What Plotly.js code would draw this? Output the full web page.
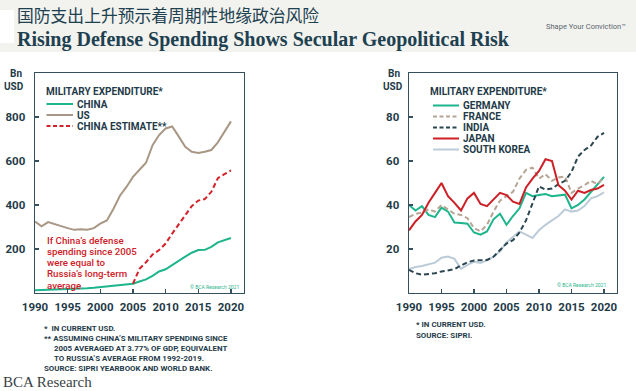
<!DOCTYPE html>
<html>
<head>
<meta charset="utf-8">
<script src="https://cdn.plot.ly/plotly-3.0.1.min.js"></script>
<style>html,body{margin:0;padding:0;background:#fff;}#chart{width:636px;height:391px;}</style>
</head>
<body>
<div id="chart"></div>
<script>
// ---------- data ----------
const years = [1990,1991,1992,1993,1994,1995,1996,1997,1998,1999,2000,2001,2002,2003,2004,2005,2006,2007,2008,2009,2010,2011,2012,2013,2014,2015,2016,2017,2018,2019,2020];
const chinaSpend = [12,13,14,14,15,16,18,20,22,24,27,30,33,36,39,42,52,62,78,98,108,128,148,165,183,195,196,210,230,240,250];
const usSpend = [325,303,322,312,302,295,287,290,288,295,315,330,382,442,482,528,560,592,672,718,748,757,712,665,642,636,642,650,685,735,780];
const estYears = [2005,2006,2007,2008,2009,2010,2011,2012,2013,2014,2015,2016,2017,2018,2019,2020];
const chinaEstimate = [42,110,140,175,195,225,270,310,355,395,420,427,460,522,540,557];

const germany = [40,37.5,39.5,35.5,34.5,38.8,37,32,31.8,31.5,27.5,26.5,28,33.5,36,31,35,38.5,45.5,44,44.5,45,44,44.3,44.7,38.5,40,42.5,46,49,52.8];
const france = [34.5,36,36.5,38,37,40,38,36,35.5,34,29.5,28,31,37,42,44,46,52,56,57,52,54,51,52.5,53,45.5,47.5,49,51,49.5,52.7];
const india = [10.5,9,8.3,8.5,9,9.8,10.2,10.8,12.5,14,14.8,15,15,16.5,19.5,22.5,24,27.5,33,41,48.5,47,47.5,49.5,51,55,62,65,67,71,72.8];
const japan = [28.5,32.5,35.5,41,45.5,50,44,41,37.5,43,45.5,40.5,39.5,42.5,45.5,44.5,41.5,40.5,48,52,55.5,60.8,60,49,46.5,42.5,46.5,45.5,46.8,47.5,49.2];
const southKorea = [10.9,11.8,12.3,13,13.8,16,16.6,15.5,11,12.8,14.2,13.6,14.8,16.5,19,23,25.5,28,26.5,25,28.5,31,33,35,38,37,37.5,39.5,43,44,45.7];

const xTicks = [1990,1995,2000,2005,2010,2015,2020];
const leftYTicks = [200,400,600,800];
const rightYTicks = [20,40,60,80];

const leftLegend = ["CHINA","US","CHINA ESTIMATE**"];
const rightLegend = ["GERMANY","FRANCE","INDIA","JAPAN","SOUTH KOREA"];

// ---------- styles ----------
const W = 636, H = 391;
const X = p => p / W;
const Y = p => 1 - p / H;
const INK = '#1f3b49';
const AX = '#34505c';
const FONT = 'Roboto, "Open Sans", sans-serif';
const C = {
  china: '#1db58c', us: '#a99785', est: '#d3222a',
  germany: '#1db58c', france: '#b6a594', india: '#2b4651', japan: '#cc1f26', korea: '#bccbd8'
};

const traces = [
  {x: years, y: chinaSpend, xaxis: 'x', yaxis: 'y', mode: 'lines', line: {color: C.china, width: 2}},
  {x: years, y: usSpend, xaxis: 'x', yaxis: 'y', mode: 'lines', line: {color: C.us, width: 2}},
  {x: estYears, y: chinaEstimate, xaxis: 'x', yaxis: 'y', mode: 'lines', line: {color: C.est, width: 2, dash: '5px,3px'}},
  {x: years, y: southKorea, xaxis: 'x2', yaxis: 'y2', mode: 'lines', line: {color: C.korea, width: 2}},
  {x: years, y: germany, xaxis: 'x2', yaxis: 'y2', mode: 'lines', line: {color: C.germany, width: 2}},
  {x: years, y: france, xaxis: 'x2', yaxis: 'y2', mode: 'lines', line: {color: C.france, width: 2, dash: '5px,3px'}},
  {x: years, y: india, xaxis: 'x2', yaxis: 'y2', mode: 'lines', line: {color: C.india, width: 2, dash: '5px,3px'}},
  {x: years, y: japan, xaxis: 'x2', yaxis: 'y2', mode: 'lines', line: {color: C.japan, width: 2}}
];

const axisCommon = {
  showline: true, mirror: true, linecolor: AX, linewidth: 1.4,
  ticks: 'inside', ticklen: 4, tickwidth: 1.2, tickcolor: AX,
  showgrid: false, zeroline: false, fixedrange: true,
  tickfont: {family: FONT, size: 11.5, color: INK, weight: 700}
};

const layout = {
  width: W, height: H,
  margin: {l: 0, r: 0, t: 0, b: 0},
  paper_bgcolor: '#ffffff', plot_bgcolor: 'rgba(0,0,0,0)',
  showlegend: false,
  xaxis: Object.assign({}, axisCommon, {domain: [X(35), X(244)], range: [1990, 2022], tickvals: xTicks, anchor: 'y', ticklabelstandoff: 3}),
  yaxis: Object.assign({}, axisCommon, {domain: [Y(293), Y(73)], range: [0, 1000], tickvals: leftYTicks, anchor: 'x', ticklabelstandoff: 6}),
  xaxis2: Object.assign({}, axisCommon, {domain: [X(409), X(617)], range: [1990, 2022], tickvals: xTicks, anchor: 'y2', ticklabelstandoff: 3}),
  yaxis2: Object.assign({}, axisCommon, {domain: [Y(293), Y(73)], range: [0, 100], tickvals: rightYTicks, anchor: 'x2', ticklabelstandoff: 6}),
  shapes: [],
  annotations: []
};

// header band
layout.shapes.push({type: 'rect', xref: 'paper', yref: 'paper', x0: 0, x1: 1, y0: Y(52), y1: 1, fillcolor: '#f2f2ee', line: {width: 0}, layer: 'below'});
layout.shapes.push({type: 'rect', xref: 'paper', yref: 'paper', x0: 0, x1: X(14), y0: Y(43), y1: Y(10), fillcolor: '#ffffff', line: {width: 0}, layer: 'below'});

function txt(t, px, py, size, color, opts) {
  layout.annotations.push(Object.assign({
    text: t, xref: 'paper', yref: 'paper', x: X(px), y: Y(py),
    xanchor: 'left', yanchor: 'middle', showarrow: false, borderpad: 0,
    font: {family: FONT, size: size, color: color, weight: 700}
  }, opts || {}));
}

// titles
txt('国防支出上升预示着周期性地缘政治风险', 16, 15, 16.8, '#1d4150', {font: {family: '"Noto Sans CJK SC", sans-serif', size: 16.8, color: '#1d4150', weight: 400}});
txt('Rising Defense Spending Shows Secular Geopolitical Risk', 16, 40, 20, '#1d4150', {font: {family: '"Liberation Serif", serif', size: 20, color: '#1d4150', weight: 700}});
txt('Shape Your Conviction™', 545, 26, 7.5, '#5b666e', {font: {family: FONT, size: 7.5, color: '#5b666e', weight: 400}});

// unit labels
txt('Bn', 16, 73, 10, INK, {xanchor: 'center'});
txt('USD', 14, 86, 10, INK, {xanchor: 'center'});
txt('Bn', 394, 73, 10, INK, {xanchor: 'center'});
txt('USD', 393, 86, 10, INK, {xanchor: 'center'});

// legends (drawn as key)
txt('MILITARY EXPENDITURE*', 45, 91, 10, INK);
const leftKey = [{c: C.china, d: 'solid'}, {c: C.us, d: 'solid'}, {c: C.est, d: '4px,2.5px'}];
leftLegend.forEach((name, i) => {
  const py = 104 + i * 11;
  layout.shapes.push({type: 'line', xref: 'paper', yref: 'paper', x0: X(46.5), x1: X(73), y0: Y(py), y1: Y(py), line: {color: leftKey[i].c, width: 2, dash: leftKey[i].d}});
  txt(name, 76, py, 10, INK);
});
txt('MILITARY EXPENDITURE*', 429, 91, 10, INK);
const rightKey = [{c: C.germany, d: 'solid'}, {c: C.france, d: '4px,2.5px'}, {c: C.india, d: '4px,2.5px'}, {c: C.japan, d: 'solid'}, {c: C.korea, d: 'solid'}];
rightLegend.forEach((name, i) => {
  const py = 105.5 + i * 11;
  layout.shapes.push({type: 'line', xref: 'paper', yref: 'paper', x0: X(433), x1: X(459), y0: Y(py), y1: Y(py), line: {color: rightKey[i].c, width: 2, dash: rightKey[i].d}});
  txt(name, 462, py, 10, INK);
});

// red note
['If China\u2019s defense', 'spending since 2005', 'were equal to', 'Russia\u2019s long-term', 'average'].forEach((t, i) => {
  txt(t, 45.5, 240 + i * 11.3, 9.7, '#cf2027', {font: {family: FONT, size: 9.7, color: '#cf2027', weight: 500}});
});

// copyright marks
txt('© BCA Research 2021', 240, 287, 5, '#2cb58c', {xanchor: 'right', font: {family: FONT, size: 5, color: '#2cb58c', weight: 400}});
txt('© BCA Research 2021', 607, 285, 5, '#2cb58c', {xanchor: 'right', font: {family: FONT, size: 5, color: '#2cb58c', weight: 400}});

// footnotes
txt('*  IN CURRENT USD.', 43, 328, 7.9, INK);
txt('** ASSUMING CHINA\u2019S MILITARY SPENDING SINCE', 43, 338, 7.9, INK);
txt('2005 AVERAGED AT 3.77% OF GDP, EQUIVALENT', 53, 348, 7.9, INK);
txt('TO RUSSIA\u2019S AVERAGE FROM 1992-2019.', 53, 358, 7.9, INK);
txt('SOURCE: SIPRI YEARBOOK AND WORLD BANK.', 43, 368, 7.9, INK);
txt('* IN CURRENT USD.', 415, 324.5, 7.9, INK);
txt('SOURCE: SIPRI.', 415, 335, 7.9, INK);

// logo
txt('BCA Research', 2, 382, 15, '#3a3f44', {font: {family: '"Liberation Serif", serif', size: 15, color: '#3a3f44', weight: 400}});

Plotly.newPlot('chart', traces, layout, {staticPlot: true, displayModeBar: false});
</script>
</body>
</html>
